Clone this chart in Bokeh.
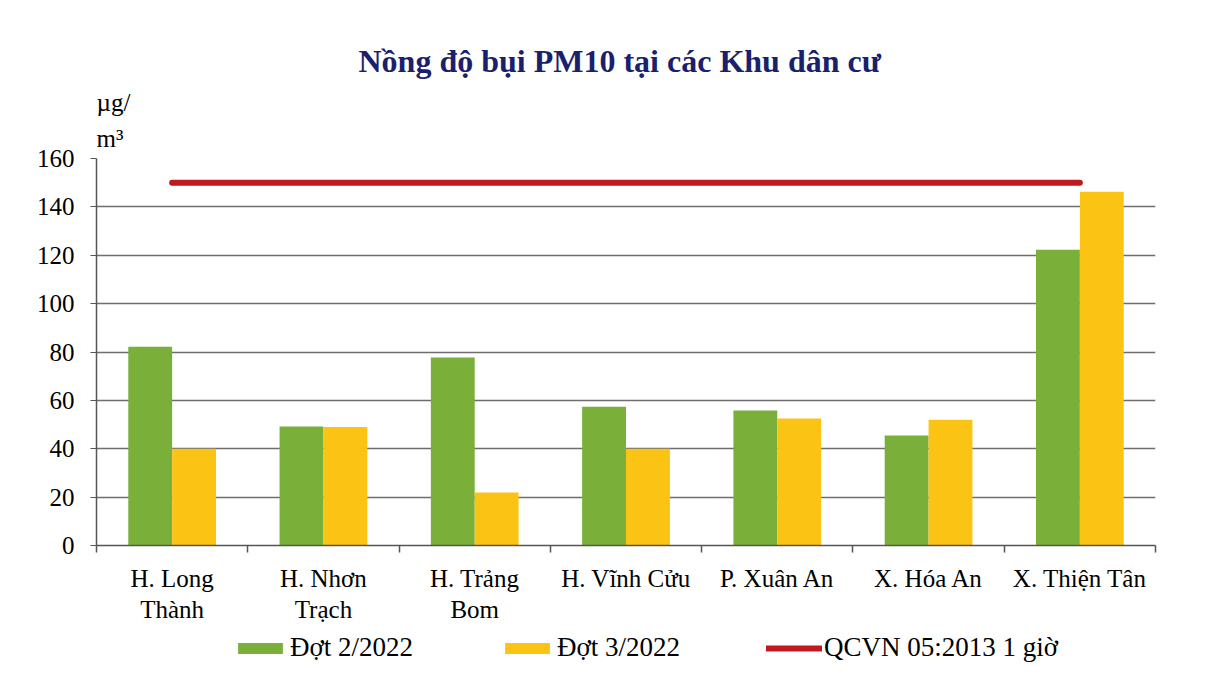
from bokeh.plotting import figure
from bokeh.layouts import column
from bokeh.models import (Range1d, FixedTicker, Title, Legend, LegendItem)
from bokeh.embed import file_html
from bokeh.resources import INLINE

categories = ["H. Long\nThành", "H. Nhơn\nTrạch", "H. Trảng\nBom", "H. Vĩnh Cửu",
              "P. Xuân An", "X. Hóa An", "X. Thiện Tân"]
dot2 = [82.2, 49.2, 77.7, 57.4, 55.8, 45.5, 122.3]
dot3 = [40.0, 49.0, 21.9, 40.0, 52.5, 52.0, 146.3]
qcvn = 150
y_ticks = [0, 20, 40, 60, 80, 100, 120, 140, 160]
series_names = ["Đợt 2/2022", "Đợt 3/2022", "QCVN 05:2013 1 giờ"]
title_text = "Nồng độ bụi PM10 tại các Khu dân cư"
unit_line1 = "µg/"
unit_line2 = "m³"

FONT = "Liberation Serif"
GREEN = "#7AB03A"
YELLOW = "#FBC314"
RED = "#BF1A1F"
NAVY = "#1A1F6E"

n = len(categories)
centers = [i + 0.5 for i in range(n)]
bw = 0.29

p = figure(frame_width=1059, frame_height=387, output_backend="svg",
           toolbar_location=None,
           x_range=Range1d(0, n), y_range=Range1d(0, 160),
           min_border_left=96, min_border_right=50, min_border_top=158,
           min_border_bottom=85)
p.outline_line_color = None
p.background_fill_color = "white"
p.border_fill_color = "white"

g = p.vbar(x=[c - bw / 2 for c in centers], top=dot2, width=bw, bottom=0,
           fill_color=GREEN, line_color=None)
yb = p.vbar(x=[c + bw / 2 for c in centers], top=dot3, width=bw, bottom=0,
            fill_color=YELLOW, line_color=None)
r = p.line(x=[centers[0], centers[-1]], y=[qcvn, qcvn], line_color=RED,
           line_width=6, line_cap="round")

# axes
p.xgrid.visible = False
p.ygrid.grid_line_color = "#6e6e6e"
p.ygrid.grid_line_width = 1.5
p.yaxis.ticker = FixedTicker(ticks=y_ticks)
p.yaxis.major_tick_out = 6
p.yaxis.major_tick_in = 0
p.yaxis.minor_tick_line_color = None
p.yaxis.axis_line_color = "#555555"
p.yaxis.axis_line_width = 1.5
p.yaxis.major_tick_line_color = "#555555"
p.yaxis.major_label_standoff = 16
p.yaxis.major_label_text_font = FONT
p.yaxis.major_label_text_font_size = "25px"
p.yaxis.major_label_text_color = "black"

p.xaxis.ticker = FixedTicker(ticks=centers, minor_ticks=list(range(n + 1)))
p.xaxis.major_label_overrides = {c: lab for c, lab in zip(centers, categories)}
p.xaxis.major_tick_line_color = None
p.xaxis.minor_tick_out = 7
p.xaxis.minor_tick_in = 0
p.xaxis.minor_tick_line_color = "#555555"
p.xaxis.minor_tick_line_width = 1.5
p.xaxis.axis_line_color = "#555555"
p.xaxis.axis_line_width = 1.5
p.xaxis.major_label_standoff = 12
p.xaxis.major_label_text_font = FONT
p.xaxis.major_label_text_font_size = "25px"
p.xaxis.major_label_text_color = "black"
p.xaxis.major_label_text_line_height = 1.15

# title and unit labels as titles in the top panel (first added = nearest frame)
p.add_layout(Title(text=unit_line2, align="left", offset=0, standoff=14,
                   text_font=FONT, text_font_size="25px",
                   text_font_style="normal", text_color="black"), "above")
p.add_layout(Title(text=unit_line1, align="left", offset=0, standoff=0,
                   text_font=FONT, text_font_size="25px",
                   text_font_style="normal", text_color="black"), "above")
p.add_layout(Title(text=title_text, align="left", offset=262, standoff=15,
                   text_font=FONT, text_font_size="32px",
                   text_font_style="bold", text_color=NAVY), "above")

# legend strip below the chart (its frame is aligned with the chart's frame)
lg = figure(frame_width=1059, frame_height=38, output_backend="svg",
            toolbar_location=None,
            x_range=Range1d(0, 1), y_range=Range1d(0, 1),
            x_axis_type=None, y_axis_type=None,
            min_border_left=96, min_border_right=50, min_border_top=0,
            min_border_bottom=0)
lg.outline_line_color = None
lg.grid.visible = False
lg.background_fill_color = "white"
lg.border_fill_color = "white"
# proxy renderers placed well below the visible range, only used for the legend
lg_g = lg.vbar(x=[0.5], top=[-8], bottom=[-9], width=0.1, fill_color=GREEN,
               line_color=None)
lg_y = lg.vbar(x=[0.5], top=[-8], bottom=[-9], width=0.1, fill_color=YELLOW,
               line_color=None)
lg_r = lg.line(x=[0.4, 0.6], y=[-8, -8], line_color=RED, line_width=6,
               line_cap="round")

legend = Legend(items=[LegendItem(label=series_names[0], renderers=[lg_g]),
                       LegendItem(label=series_names[1], renderers=[lg_y]),
                       LegendItem(label=series_names[2], renderers=[lg_r])],
                location=(136, 5), orientation="horizontal",
                glyph_width=56, glyph_height=14, label_standoff=2, spacing=86,
                padding=0, margin=0, label_height=26,
                label_text_font=FONT, label_text_font_size="27px",
                label_text_color="black",
                border_line_color=None, background_fill_alpha=0)
lg.add_layout(legend, "center")

layout = column(p, lg, spacing=0)
open("out.html", "w").write(file_html(layout, INLINE))
